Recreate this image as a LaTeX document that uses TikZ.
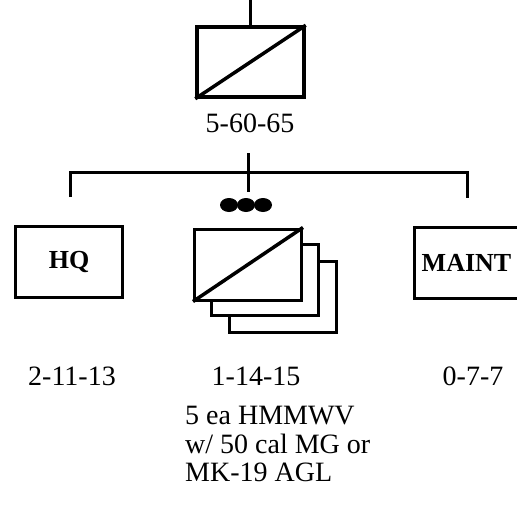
\documentclass[tikz,border=0pt]{standalone}
\usepackage{fontspec}
\setmainfont{Liberation Serif}
\usetikzlibrary{positioning}

\begin{document}
\begin{tikzpicture}[
    x=1pt,y=-1pt,
    unit/.style={draw,rectangle,line width=3pt,minimum width=107pt,minimum height=71pt,
                 inner sep=0pt,fill=white},
    bold/.style={font=\fontsize{26}{28}\selectfont\bfseries},
    lbl/.style={anchor=base,inner sep=0pt,font=\fontsize{28}{30}\selectfont},
    link/.style={line width=3pt}
  ]
  \useasboundingbox (0,0) rectangle (517,504);
  % troop
  \node[unit,line width=3.5pt,minimum height=70pt] (trp) at (250.5,62) {};
  \draw[line width=3.5pt] (trp.south west) -- (trp.north east);
  \node[lbl] (trplbl) at (250,132) {5-60-65};
  \coordinate (trpin) at (250.5,0);
  \draw[link] (trpin) -- (trp.north);
  % bar
  \coordinate (stem)  at (248,153);
  \coordinate (barw)  at (70,172);
  \coordinate (bare)  at (467,172);
  \coordinate (dropw) at (70,197);
  \coordinate (dropc) at (248,192);
  \coordinate (drope) at (467,198);
  \draw[link] (dropw) -- (barw) -- (bare) -- (drope);
  \draw[link] (stem) -- (dropc);
  % platoons
  \node[unit] (plt3) at (283,296.5) {};
  \node[unit] (plt2) at (265,279.5) {};
  \node[unit] (plt1) at (248,264.5) {};
  \draw[line width=3.5pt] (plt1.south west) -- (plt1.north east);
  \foreach \x in {229,246,263}
    \fill (\x,205) ellipse (9pt and 7pt);
  % hq and maint
  \node[unit,bold] (hq) at (69,261.5) {HQ};
  \node[unit,bold,minimum width=104pt] (mnt) at (466.5,263) {MAINT};
  % strengths
  \node[lbl] (hqlbl)  at (72,385)  {2-11-13};
  \node[lbl] (pltlbl) at (256,385) {1-14-15};
  \node[lbl] (mntlbl) at (473,385) {0-7-7};
  \node[anchor=north west,align=left,inner sep=0pt,
        font=\fontsize{28}{28.5}\selectfont] (pltnote) at (185,406)
    {5 ea HMMWV\\w/ 50 cal MG or\\MK-19 AGL};
\end{tikzpicture}
\end{document}
